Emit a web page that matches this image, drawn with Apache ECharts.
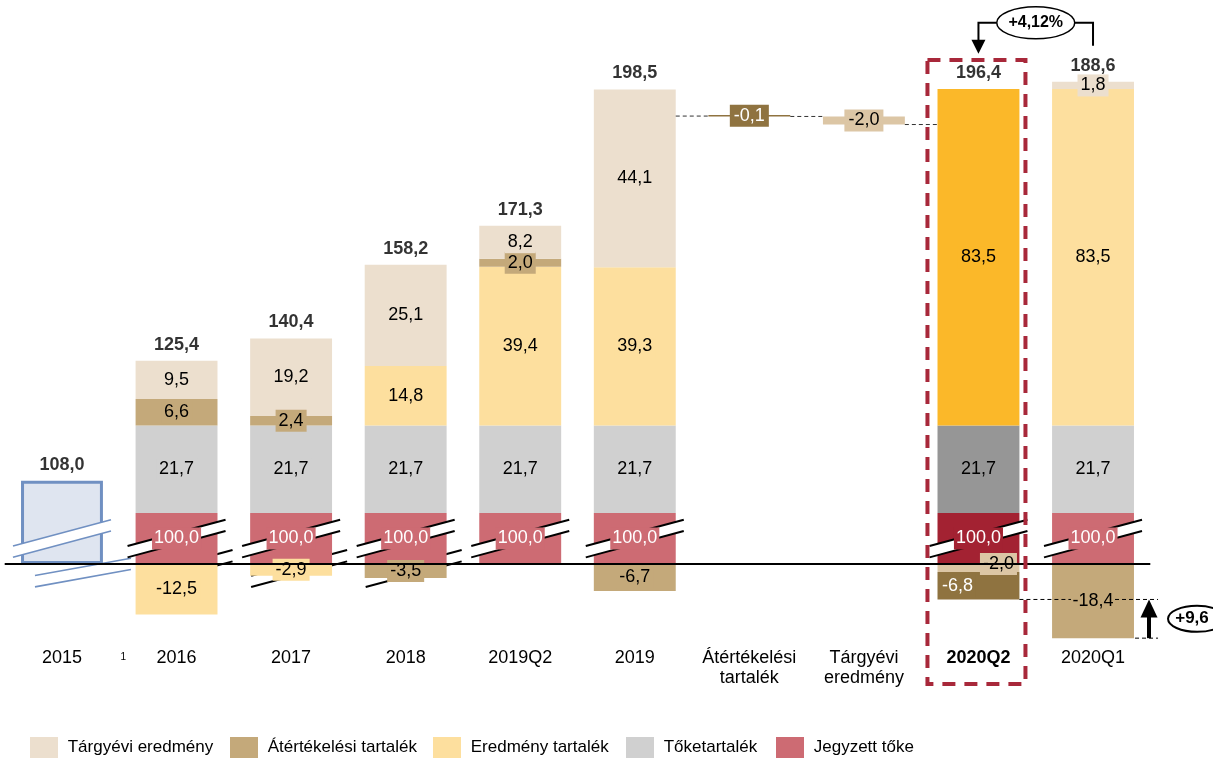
<!DOCTYPE html>
<html>
<head>
<meta charset="utf-8">
<script src="https://cdn.jsdelivr.net/npm/echarts/dist/echarts.min.js"></script>
<style>html,body{margin:0;padding:0;background:#fff}#c{width:1213px;height:759px}</style>
</head>
<body>
<div id="c"></div>
<script>
const FONT = '"Liberation Sans",Arial,sans-serif';

// ---- data ----
const categories = ['2015','2016','2017','2018','2019Q2','2019','Átértékelési\ntartalék','Tárgyévi\neredmény','2020Q2','2020Q1'];
const totals            = [108.0,125.4,140.4,158.2,171.3,198.5,null,null,196.4,188.6];
const jegyzettToke      = [null,100,100,100,100,100,null,null,100,100];
const toketartalek      = [null,21.7,21.7,21.7,21.7,21.7,null,null,21.7,21.7];
const eredmenyTartalek  = [null,-12.5,-2.9,14.8,39.4,39.3,null,null,83.5,83.5];
const atertekelesi      = [null,6.6,2.4,-3.5,2.0,-6.7,null,null,-6.8,-18.4];
const targyeviEredmeny  = [null,9.5,19.2,25.1,8.2,44.1,null,null,-2.0,1.8];
const bridgeChanges     = [null,null,null,null,null,null,-0.1,-2.0,null,null];
const bridgeStartIndex  = 5;
const legendNames = ['Tárgyévi eredmény','Átértékelési tartalék','Eredmény tartalék','Tőketartalék','Jegyzett tőke'];
const footnoteText = '1';
const growthText = '+4,12%';
const diffText = '+9,6';

// ---- styling ----
const COL = {beige:'#ecdfce', tan:'#c4a97a', yellow:'#fddf9e', gray:'#d0d0d0', red:'#cd6b73'};
const HL  = {beige:'#dcc6a5', tan:'#8f7340', yellow:'#fbb829', gray:'#969696', red:'#a32232'};
const HL_INDEX = 8;
const BAR_RATIO = 0.715;
const RED_SHOW = 12.65;              // compressed display height of the broken 100 segment
const BREAK_OFFSET = 100 - RED_SHOW;
const FS = 18;
const LEGEND_X = [30, 230, 433, 626, 776];
const fmt = v => v.toFixed(1).replace('.', ',');
const n = categories.length;

// positive stack top (display units) and negative sums
const posTop = [], negSum = [];
for (let i = 0; i < n; i++) {
  if (i === 0) { posTop.push(totals[0] - BREAK_OFFSET); negSum.push(0); continue; }
  if (jegyzettToke[i] == null) { posTop.push(null); negSum.push(0); continue; }
  let p = RED_SHOW, m = 0;
  [toketartalek, eredmenyTartalek, atertekelesi, targyeviEredmeny].forEach(a => {
    const v = a[i]; if (v == null) return; if (v > 0) p += v; else m += v;
  });
  posTop.push(p); negSum.push(m);
}

// waterfall bridge
const wfBase = new Array(n).fill(null), wfDelta = new Array(n).fill(null), connectors = [];
let run = totals[bridgeStartIndex];
connectors.push([bridgeStartIndex, run - BREAK_OFFSET]);
for (let i = 0; i < n; i++) {
  const ch = bridgeChanges[i];
  if (ch == null) continue;
  const end = run + ch;
  wfBase[i] = Math.min(run, end) - BREAK_OFFSET;
  wfDelta[i] = {value: Math.abs(ch), real: ch};
  run = end;
  connectors.push([i, run - BREAK_OFFSET]);
}

const LABEL_OFFSETS = {'beigeNeg-8':[20,-4], 'tan-8':[-21,0]};

function segSeries(name, arr, key, filter, sid) {
  return {
    type:'bar', name: name, stack:'main', barWidth: (BAR_RATIO*100)+'%',
    itemStyle:{color: COL[key]}, color: COL[key],
    data: arr.map((v, i) => {
      if (v == null || !filter(v)) return null;
      const hl = i === HL_INDEX;
      const c = hl ? HL[key] : COL[key];
      return {
        value: key === 'red' ? RED_SHOW : v, real: v,
        itemStyle:{color:c},
        label:{backgroundColor:c, color:(hl && (key==='tan'||key==='red')) ? '#fff' : '#000',
               offset: LABEL_OFFSETS[sid+'-'+i] || [0,0]}
      };
    }),
    label:{show: key !== 'red', position:'inside', formatter: p => fmt(p.data.real),
           fontFamily:FONT, fontSize:FS, padding:[2,3]}
  };
}

const series = [
  { type:'bar', name:'2015', stack:'main', barWidth:(BAR_RATIO*100)+'%',
    data: totals.map((t,i) => i === 0 ? t - BREAK_OFFSET : null),
    itemStyle:{color:'#dfe5f0', borderColor:'#7090c2', borderWidth:3} },
  segSeries('Jegyzett tőke', jegyzettToke, 'red', v => true, 'red'),
  segSeries('Tőketartalék', toketartalek, 'gray', v => true, 'gray'),
  segSeries('Eredmény tartalék', eredmenyTartalek, 'yellow', v => true, 'yellow'),
  segSeries('Tárgyévi eredmény (neg)', targyeviEredmeny, 'beige', v => v < 0, 'beigeNeg'),
  segSeries('Átértékelési tartalék', atertekelesi, 'tan', v => true, 'tan'),
  segSeries('Tárgyévi eredmény', targyeviEredmeny, 'beige', v => v > 0, 'beige'),
  { type:'bar', name:'wfBase', stack:'main', barWidth:(BAR_RATIO*100)+'%',
    data: wfBase, itemStyle:{color:'rgba(0,0,0,0)'}, silent:true,
    markLine:{silent:true, symbol:['none','none'], label:{show:false},
      lineStyle:{color:'#000', width:2, type:'solid'}, data:[{yAxis:0}]} },
  { type:'bar', name:'wfDelta', stack:'main', barWidth:(BAR_RATIO*100)+'%', barMinHeight:1.5,
    data: wfDelta.map((d,i) => d == null ? null : {
      value:d.value, real:d.real,
      itemStyle:{color: i === 6 ? HL.tan : HL.beige},
      label:{backgroundColor: i === 6 ? HL.tan : HL.beige, color: i === 6 ? '#fff' : '#000'}
    }),
    label:{show:true, position:'inside', formatter:p => fmt(p.data.real), fontFamily:FONT, fontSize:FS, padding:[2,4]} },
  { type:'scatter', name:'totals', symbolSize:0, z:5,
    data: posTop.map(v => v == null ? null : v),
    label:{show:true, position:'top', distance:7, formatter:p => fmt(totals[p.dataIndex]),
           fontFamily:FONT, fontSize:FS, fontWeight:'bold', color:'#000'} },
  { type:'custom', name:'connectors', z:3, silent:true,
    data: connectors,
    renderItem(params, api) {
      const i = api.value(0), lv = api.value(1);
      const p0 = api.coord([i, lv]), p1 = api.coord([i+1, lv]);
      const hw = api.size([1,0])[0]*BAR_RATIO/2;
      return {type:'line', shape:{x1:p0[0]+hw, y1:p0[1], x2:p1[0]-hw, y2:p1[1]},
              style:{stroke:'#333', lineWidth:1, lineDash:[4,3]}};
    } },
  { type:'custom', name:'breaks', z:4, silent:true,
    data: categories.map((c,i) => (i === 0 || jegyzettToke[i] != null) ? [i, RED_SHOW/2, i === 0 ? 1 : (i === HL_INDEX ? 2 : 0)] : null).filter(d => d),
    renderItem(params, api) {
      const i = api.value(0), kind = api.value(2);
      const c = api.coord([i, api.value(1)]);
      const hw = 49, k = 0.268, g = 5.7;
      const x0 = c[0]-hw, x1 = c[0]+hw, ya = c[1]+k*hw, yb = c[1]-k*hw;
      const stroke = kind === 1 ? '#7090c2' : '#000';
      const lw = kind === 1 ? 1.6 : 2;
      const ch = [
        {type:'polygon', shape:{points:[[x0,ya-g],[x1,yb-g],[x1,yb+g],[x0,ya+g]]}, style:{fill:'#fff'}},
        {type:'line', shape:{x1:x0,y1:ya-g,x2:x1,y2:yb-g}, style:{stroke, lineWidth:lw}},
        {type:'line', shape:{x1:x0,y1:ya+g,x2:x1,y2:yb+g}, style:{stroke, lineWidth:lw}}
      ];
      if (kind === 1) {
        const cx = c[0]+21, cy = c[1]+34, k2 = 0.18;
        ch.push({type:'line', shape:{x1:cx-48,y1:cy-g+k2*48,x2:cx+48,y2:cy-g-k2*48}, style:{stroke, lineWidth:lw}});
        ch.push({type:'line', shape:{x1:cx-48,y1:cy+g+k2*48,x2:cx+48,y2:cy+g-k2*48}, style:{stroke, lineWidth:lw}});
      } else {
        const bg = kind === 2 ? HL.red : COL.red;
        ch.push({type:'text', x:c[0], y:c[1], style:{text: fmt(jegyzettToke[i]), fill:'#fff',
          fontFamily:FONT, fontSize:FS, align:'center', verticalAlign:'middle', backgroundColor:bg, padding:[2,2]}});
      }
      return {type:'group', children:ch};
    } },
  { type:'custom', name:'lowerBreaks', z:1, silent:true,
    data: [[1, RED_SHOW/2],[2, RED_SHOW/2],[3, RED_SHOW/2]],
    renderItem(params, api) {
      const c = api.coord([api.value(0), api.value(1)]);
      const hw = 48, k = 0.268, g = 5.7, cx = c[0]+8, cy = c[1]+30;
      return {type:'group', children:[
        {type:'line', shape:{x1:cx-hw,y1:cy-g+k*hw,x2:cx+hw,y2:cy-g-k*hw}, style:{stroke:'#000', lineWidth:2}},
        {type:'line', shape:{x1:cx-hw,y1:cy+g+k*hw,x2:cx+hw,y2:cy+g-k*hw}, style:{stroke:'#000', lineWidth:2}}
      ]};
    } }
];

const option = {
  animation:false,
  backgroundColor:'#fff',
  textStyle:{fontFamily:FONT},
  grid:{left:4.7, right:62.7, top:40.1, bottom:114.4},
  xAxis:{type:'category', data:categories,
    axisLine:{show:false, onZero:false}, axisTick:{show:false}, splitLine:{show:false},
    axisLabel:{interval:0, margin:3, fontSize:FS, lineHeight:20, color:'#000', fontFamily:FONT,
      formatter:(v,i) => i === HL_INDEX ? '{b|'+v+'}' : v,
      rich:{b:{fontWeight:'bold', fontSize:FS, fontFamily:FONT, color:'#000'}}}},
  yAxis:{type:'value', min:-20, max:130, show:false, splitLine:{show:false}},
  legend: legendNames.map((nm, k) => ({
    data:[nm], left:LEGEND_X[k], top:737, itemWidth:28, itemHeight:21, icon:'rect', padding:0,
    formatter: s => ' ' + s,
    textStyle:{fontFamily:FONT, fontSize:17, color:'#000'}
  })),
  series: series
};

const chart = echarts.init(document.getElementById('c'));
chart.setOption(option);

// ---- annotations positioned from the axes ----
const P = (i, v) => chart.convertToPixel({xAxisIndex:0, yAxisIndex:0}, [i, v]);
const c8 = P(8,0)[0], c9 = P(9,0)[0], y0 = P(8,0)[1];
const bandW = P(1,0)[0] - P(0,0)[0];
const hwB = bandW*BAR_RATIO/2;
const top8 = P(8, posTop[8])[1], top9 = P(9, posTop[9])[1];
const nb8 = P(8, negSum[8])[1], nb9 = P(9, negSum[9])[1];
const yLine = top9 - 59;
const ellCx = (c8 + c9)/2;
const g = [];
// highlight dashed frame
g.push({type:'rect', z:10, shape:{x:c8-51, y:top8-29, width:98, height:(y0+120)-(top8-29)},
  style:{fill:null, stroke:'#a8283a', lineWidth:4, lineDash:[13,9]}});
// growth annotation
g.push({type:'polyline', z:10, shape:{points:[[ellCx-39,yLine],[c8,yLine],[c8,yLine+18]]}, style:{stroke:'#000', lineWidth:2, fill:null}});
g.push({type:'polygon', z:10, shape:{points:[[c8-7,yLine+17],[c8+7,yLine+17],[c8,yLine+31]]}, style:{fill:'#000'}});
g.push({type:'polyline', z:10, shape:{points:[[ellCx+39,yLine],[c9,yLine],[c9,yLine+23]]}, style:{stroke:'#000', lineWidth:2, fill:null}});
g.push({type:'ellipse', z:10, shape:{cx:ellCx, cy:yLine, rx:39, ry:16}, style:{fill:'#fff', stroke:'#000', lineWidth:1.5}});
g.push({type:'text', z:11, x:ellCx, y:yLine, style:{text:growthText, fontFamily:FONT, fontSize:16, fontWeight:'bold', fill:'#000', align:'center', verticalAlign:'middle'}});
// difference annotation
g.push({type:'line', z:10, shape:{x1:c8+hwB, y1:nb8, x2:c9-22, y2:nb8}, style:{stroke:'#000', lineWidth:1, lineDash:[4,3]}});
g.push({type:'line', z:10, shape:{x1:c9+22, y1:nb8, x2:c9+65, y2:nb8}, style:{stroke:'#000', lineWidth:1, lineDash:[4,3]}});
g.push({type:'line', z:10, shape:{x1:c9+42, y1:nb9, x2:c9+65, y2:nb9}, style:{stroke:'#000', lineWidth:1, lineDash:[4,3]}});
const ax = c9 + 56;
g.push({type:'line', z:10, shape:{x1:ax, y1:nb9, x2:ax, y2:nb8+17}, style:{stroke:'#000', lineWidth:4}});
g.push({type:'polygon', z:10, shape:{points:[[ax-8.5,nb8+18],[ax+8.5,nb8+18],[ax,nb8]]}, style:{fill:'#000'}});
const ey = (nb8+nb9)/2;
g.push({type:'ellipse', z:10, shape:{cx:c9+104, cy:ey, rx:29, ry:13}, style:{fill:'#fff', stroke:'#000', lineWidth:2}});
g.push({type:'text', z:11, x:c9+99, y:ey, style:{text:diffText, fontFamily:FONT, fontSize:17, fontWeight:'bold', fill:'#000', align:'center', verticalAlign:'middle'}});
// footnote marker
const fx = (P(0,0)[0] + P(1,0)[0])/2 + 4;
g.push({type:'text', z:10, x:fx, y:657, style:{text:footnoteText, fontFamily:FONT, fontSize:10, fill:'#000', align:'center', verticalAlign:'middle'}});
chart.setOption({graphic:{elements:g}});
</script>
</body>
</html>
